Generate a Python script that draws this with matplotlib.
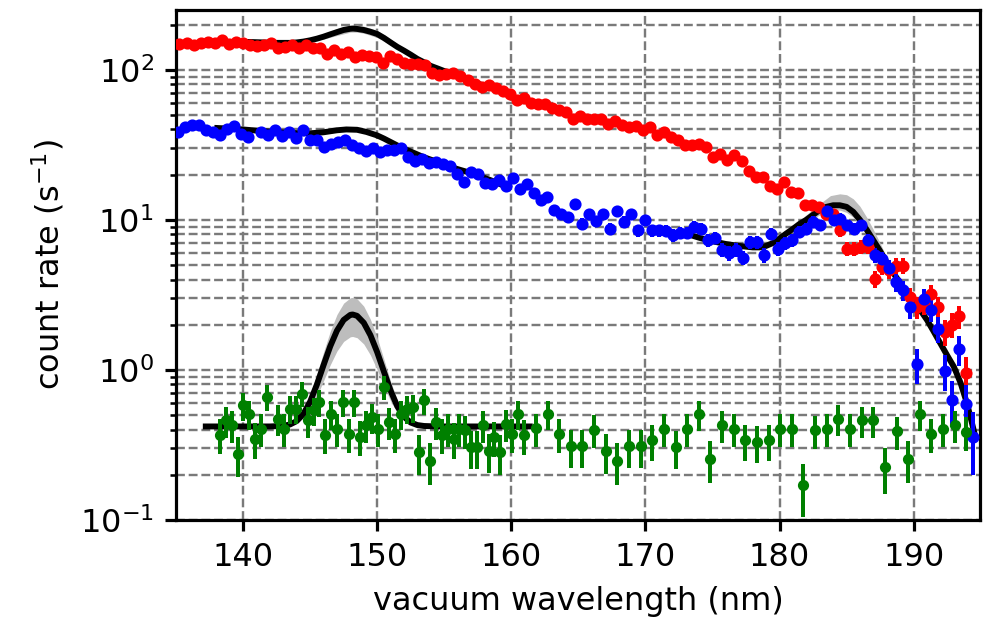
import numpy as np
import matplotlib
matplotlib.use("Agg")
import matplotlib.pyplot as plt

# ---------------- data ----------------
red_x_range = (135.26, 193.93)
red_y = [148, 151, 147, 151, 152, 150, 157, 148, 153, 150, 146, 143, 146, 150, 139, 142, 146, 139,
         146, 139, 139, 128, 135, 128, 131, 122, 125, 123, 122, 111, 123, 117, 111, 110, 109, 107,
         95, 92, 94,
         95.6, 90.5, 85, 80.4, 77, 79, 75, 72, 69, 62.6, 65, 60, 59.5, 59.5, 56, 53.7, 52.5, 47, 49.5,
         47, 47, 47, 43.6, 45.3, 42.7, 41.6, 42, 39.5, 41.6, 36.6, 38.5, 35.6, 34.2, 31.3, 31.3, 32.2,
         30.6,
         26.3, 27.6, 25.2, 26.9, 24.7, 21.3, 19.3, 19.3, 16.8, 16.1, 17.8, 15.3, 15.1,
         12.5, 12.5, 12.2, 11.0, 11.0, 8.5, 6.4, 6.4, 6.6, 6.6, 4.05, 4.85, 4.6, 4.96, 4.96, 3.06,
         2.62, 2.76, 3.22, 2.62, 1.79, 2.0, 2.27, 0.95]

blue_x_range = (135.13, 194.43)
blue_y = [38.5, 41.6, 42.7, 42.7, 39.5, 38.5, 36.6, 40, 42, 37.5, 35.6, np.nan, 38.5, 36.6, 39.5,
          36, 38.5, 35.3, 39.5, 33.9, 33.9, 30.6, 32.2, 33, 33.9, 31.3, 30.3, 28.7, 30.3, 28.4,
          29.4, 29, 30.3, 26.3, 24.7, 25.6, 23.9, 24.3, 23.4, 22.7, 20.1,
          17.8, 20.8, 20.3, 17.6, 17.2, 18.5, 16.7, 19.1, 16.1, 17.4, 15.1, 13.6, 14.2, 11.7, 10.9,
          10.4, 12.8, 9.4, 11.0, 9.8, 10.9, 8.75, 11.5, 9.7, 11.0, 8.5, 10.0, 8.5, 8.5, 8.4, 7.9,
          8.2, 8.2, 9.0, 8.75, 7.3,
          7.6, 6.3, 6.0, 6.3, 5.6, 7.1, 7.1, 5.8, 8.1, 6.4, 7.0, 7.3, 8.3, 8.75, 9.7, 9.2, 11.5,
          9.9, 10.2, 9.2, 8.75, 9.2, 7.3, 5.8, 5.5, 4.8, 3.85, 3.39, 2.62, 1.09, 2.98, 2.52, 1.88,
          0.99, 0.63, 1.38, 0.59, 0.36]

green_dense_x_range = (138.29, 160.92)
green_dense_y = [0.371, 0.461, 0.427, 0.276, 0.58, 0.51, 0.348, 0.405, 0.659, np.nan,
                 0.472, 0.405, 0.551, 0.551, 0.694, 0.461, 0.537, 0.61, 0.371, 0.51,
                 0.405, 0.61, 0.375, 0.61, 0.36, 0.427, 0.485, 0.405, 0.768, 0.449,
                 0.375, 0.51, 0.551, 0.565, 0.283, 0.626, 0.249, 0.449, 0.371, 0.405,
                 0.348, 0.405, 0.395, 0.306, 0.306, 0.427, 0.29, 0.357, 0.283, 0.438,
                 0.375, 0.51, 0.366]
green_sparse_x_range = (161.84, 193.93)
green_sparse_y = [0.41, 0.51, 0.375, 0.31, 0.309, 0.40, 0.287, 0.249, 0.309, 0.31,
                  0.339, 0.405, 0.305, 0.405, 0.505, 0.256, 0.427, 0.405, 0.339, 0.33,
                  0.339, 0.405, 0.405, 0.17, 0.395, 0.405, 0.472, 0.405, 0.461, 0.461,
                  0.225, 0.39, 0.256, 0.505, 0.375, 0.405, 0.427, 0.385]

# exposure-like constants used for Poisson error bars
T_red, T_blue, T_green = 14.0, 14.0, 40.0

# fit curves
red_fit_x = [137.8, 138.5, 139.5, 140.5, 141.5, 142.5, 143.0, 143.5, 144.0, 144.5, 145.0, 145.5,
             146.0, 146.5, 147.0, 147.5, 148.0, 148.2, 148.5, 149.0, 149.5, 150.0, 150.5, 151.0,
             151.5, 152.0, 152.5, 153.0, 153.5, 154.0, 154.5, 155.0, 156.0, 157.0, 158.0, 159.0,
             160.0]
red_fit_y = [151, 152, 153, 153, 152, 151, 151, 151, 152, 154, 157, 161,
             166, 172, 178, 184, 187.5, 188, 187, 184, 179, 173, 163, 152,
             142, 134, 126, 118, 112, 106, 102, 98, 91, 84, 78, 73.5,
             69]
red_band_x = [144.0, 145.0, 146.0, 147.0, 148.0, 148.5, 149.0, 150.0, 151.0, 152.0, 153.0]
red_band_hi = [155, 161, 173, 188, 198, 198, 195, 183, 160, 138, 120]
red_band_lo = [151, 154, 160, 169, 178, 178, 175, 164, 146, 131, 117]

blue_fit1_x = [137.86, 139.0, 140.0, 141.0, 142.0, 143.0, 144.0, 145.0, 146.0, 147.0, 147.7,
               148.5, 149.2, 150.0, 150.5, 151.0, 151.9, 152.5, 153.4, 154.2, 154.9, 155.9,
               157.15, 158.5, 160.0]
blue_fit1_y = [41, 40.5, 40, 39.3, 38.7, 38.2, 37.8, 37.7, 38.3, 39.5, 40,
               39.8, 38.5, 36.5, 34.8, 33, 30, 28.5, 26.3, 24.8, 23.6, 21.9,
               20.3, 18.3, 16.1]
blue_band1_x = [145.5, 146.5, 147.5, 148.5, 149.5, 150.5]
blue_band1_hi = [38.5, 40.0, 41.5, 41.5, 39.0, 35.5]
blue_band1_lo = [37.8, 38.6, 39.3, 39.2, 37.5, 34.6]

blue_fit2_x = [173.2, 174.0, 175.0, 176.0, 177.0, 178.0, 178.5, 179.0, 179.5, 180.0, 180.5,
               181.0, 181.5, 182.0, 182.5, 183.0, 183.5, 184.0, 184.5, 185.0, 185.5, 186.0,
               186.5, 187.0, 187.5, 188.0, 188.5, 189.0, 189.5, 190.0, 190.5, 191.0, 191.5,
               192.0, 192.5, 193.0, 193.5, 194.0, 194.6]
blue_fit2_y = [8.0, 7.6, 7.2, 6.9, 6.7, 6.55, 6.55, 6.7, 7.0, 7.5, 8.1,
               8.7, 9.4, 10.0, 10.8, 11.6, 12.2, 12.5, 12.5, 12.2, 11.3, 10.0,
               8.6, 7.3, 6.2, 5.2, 4.4, 3.8, 3.3, 2.9, 2.5, 2.15, 1.8,
               1.5, 1.25, 1.05, 0.82, 0.59, 0.36]
blue_band2_x = [179.5, 180.0, 181.0, 182.0, 183.0, 183.8, 184.5, 185.0, 185.5, 186.0, 186.5,
                187.0, 187.5, 188.0, 188.5]
blue_band2_hi = [7.0, 7.6, 9.1, 10.8, 12.8, 14.5, 14.9, 14.7, 13.8, 12.3, 10.4,
                 8.6, 7.0, 5.6, 4.5]
blue_band2_lo = [7.0, 7.4, 8.4, 9.5, 10.8, 11.6, 11.6, 11.2, 10.4, 9.2, 7.9,
                 6.8, 5.8, 5.0, 4.3]

green_fit_x = [137.0, 142.0, 143.0, 143.5, 144.0, 144.5, 145.0, 145.5, 146.0, 146.5, 147.0,
               147.5, 148.0, 148.17, 148.5, 149.0, 149.5, 150.0, 150.5, 151.0, 151.5, 152.0,
               152.5, 153.0, 153.5, 154.5, 161.6]
green_fit_y = [0.42, 0.42, 0.424, 0.433, 0.456, 0.509, 0.614, 0.796, 1.075, 1.436, 1.825,
               2.153, 2.327, 2.34, 2.293, 2.061, 1.702, 1.314, 0.976, 0.728, 0.573, 0.487,
               0.446, 0.429, 0.423, 0.42, 0.42]
green_band_hi = [0.42, 0.42, 0.426, 0.438, 0.47, 0.541, 0.684, 0.934, 1.313, 1.806, 2.338,
                 2.785, 3.023, 3.04, 2.976, 2.659, 2.169, 1.64, 1.178, 0.841, 0.628, 0.512,
                 0.456, 0.433, 0.424, 0.42, 0.42]
green_band_lo = [0.42, 0.42, 0.423, 0.429, 0.444, 0.478, 0.546, 0.665, 0.846, 1.081, 1.335,
                 1.548, 1.662, 1.67, 1.639, 1.488, 1.255, 1.002, 0.782, 0.621, 0.519, 0.464,
                 0.437, 0.426, 0.422, 0.42, 0.42]

x_ticks = [140, 150, 160, 170, 180, 190]

# ---------------- figure ----------------
DPI = 230
fig = plt.figure(figsize=(989 / DPI, 630 / DPI), dpi=DPI)
ax = fig.add_axes([176 / 989, 1 - 520 / 630, (980 - 176) / 989, (520 - 10) / 630])

band_col = "#bdbdbd"
fit_lw = 1.85

def series(rng, vals):
    x = np.linspace(rng[0], rng[1], len(vals))
    y = np.array(vals, dtype=float)
    m = ~np.isnan(y)
    return x[m], y[m]

rx, ry = series(red_x_range, red_y)
bx, by = series(blue_x_range, blue_y)
gx1, gy1 = series(green_dense_x_range, green_dense_y)
gx2, gy2 = series(green_sparse_x_range, green_sparse_y)
gx = np.concatenate([gx1, gx2])
gy = np.concatenate([gy1, gy2])

# bands
ax.fill_between(red_band_x, red_band_lo, red_band_hi, color=band_col, lw=0, zorder=1.5)
ax.fill_between(blue_band1_x, blue_band1_lo, blue_band1_hi, color=band_col, lw=0, zorder=1.5)
ax.fill_between(blue_band2_x, blue_band2_lo, blue_band2_hi, color=band_col, lw=0, zorder=1.5)
ax.fill_between(green_fit_x, green_band_lo, green_band_hi, color=band_col, lw=0, zorder=1.5)

# fits
for fx, fy in [(red_fit_x, red_fit_y), (blue_fit1_x, blue_fit1_y),
               (blue_fit2_x, blue_fit2_y), (green_fit_x, green_fit_y)]:
    ax.plot(fx, fy, color="black", lw=fit_lw, zorder=2, solid_capstyle="butt")

# data
ax.errorbar(rx, ry, yerr=np.sqrt(ry / T_red), fmt="o", color="red", ms=2.8,
            elinewidth=1.25, capsize=0, zorder=3)
ax.errorbar(bx, by, yerr=np.sqrt(by / T_blue), fmt="o", color="blue", ms=2.8,
            elinewidth=1.25, capsize=0, zorder=3)
ax.errorbar(gx, gy, yerr=np.sqrt(gy / T_green), fmt="o", color="green", ms=2.5,
            elinewidth=1.25, capsize=0, zorder=3)

ax.set_yscale("log")
ax.set_xlim(135.0, 194.95)
ax.set_ylim(0.1, 250)
ax.set_xticks(x_ticks)
ax.set_axisbelow(True)
ax.grid(True, which="major", axis="both", linestyle="--", color="#7a7a7a", lw=0.75)
ax.grid(True, which="minor", axis="y", linestyle="--", color="#7a7a7a", lw=0.75)

for s in ax.spines.values():
    s.set_linewidth(1.0)
ax.tick_params(which="major", width=1.0, length=3.5, labelsize=10)
ax.tick_params(which="minor", width=0.8, length=2.0)

ax.set_xlabel("vacuum wavelength (nm)", fontsize=10)
ax.set_ylabel("count rate (s$^{-1}$)", fontsize=10)

fig.savefig("out.png", dpi=DPI)
